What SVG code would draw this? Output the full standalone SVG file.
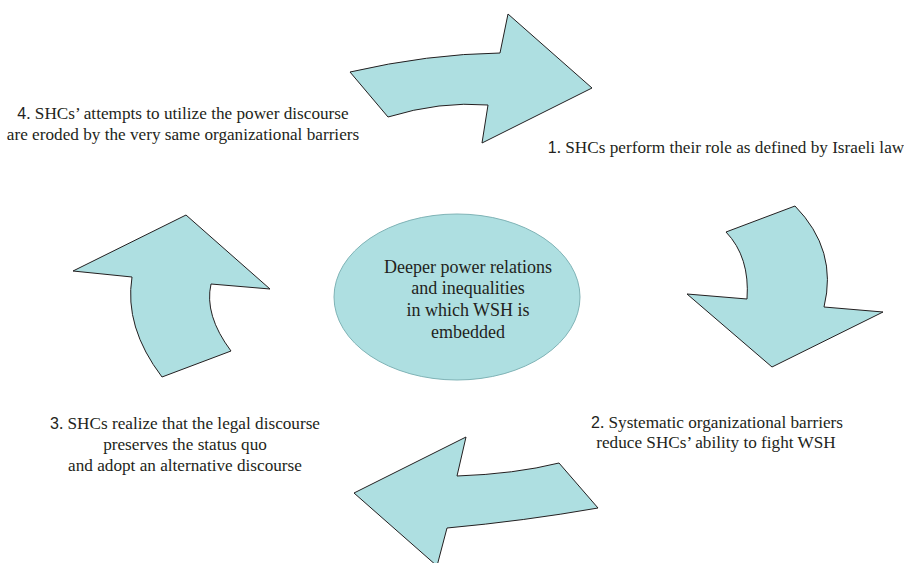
<svg xmlns="http://www.w3.org/2000/svg" width="904" height="563" viewBox="0 0 904 563">
<style>
.arrow{fill:#aedfe1;stroke:#231f20;stroke-width:1;stroke-linejoin:miter}
.t{font-family:"Liberation Serif","Times New Roman",serif;font-size:17.2px;fill:#231f20;text-anchor:middle}
.n{font-family:"Liberation Sans",Arial,sans-serif;font-size:16px}
.c{font-family:"Liberation Serif","Times New Roman",serif;font-size:18px;fill:#231f20;text-anchor:middle}
</style>
<rect width="904" height="563" fill="#ffffff"/>
<g id="connectors">
<path class="arrow" d="M350,72 Q428,54 500,53 L508,14 L592,88 L482,143 L488,105 Q440,101 388,117 Z"/>
<path class="arrow" d="M726,232 L795,206 Q838,250 824,307 L883,312 L772,367 L687,294 L747,299 Q750,257 726,232 Z"/>
<path class="arrow" d="M466,437 L457,476 Q515,474 559,463 L598,508 Q524,521 447,528 L437,566 L354,493 Z"/>
<path class="arrow" d="M186,215 L270,289 L211,284 Q204,315 231,351 L162,377 Q124,327 132,277 L73,271 Z"/>
</g>
<g id="center">
<ellipse cx="457" cy="297" rx="123" ry="83" fill="#aedfe1" stroke="#7fb3b6" stroke-width="1"/>
<text class="c" x="468" y="273">Deeper power relations</text>
<text class="c" x="468" y="294">and inequalities</text>
<text class="c" x="468" y="316">in which WSH is</text>
<text class="c" x="468" y="338">embedded</text>
</g>
<g id="label1">
<text class="t" x="726" y="153"><tspan class="n">1</tspan>. SHCs perform their role as defined by Israeli law</text>
</g>
<g id="label2">
<text class="t" x="717" y="428"><tspan class="n">2</tspan>. Systematic organizational barriers</text>
<text class="t" x="716" y="448">reduce SHCs’ ability to fight WSH</text>
</g>
<g id="label3">
<text class="t" x="185" y="429"><tspan class="n">3</tspan>. SHCs realize that the legal discourse</text>
<text class="t" x="185" y="450">preserves the status quo</text>
<text class="t" x="185" y="471">and adopt an alternative discourse</text>
</g>
<g id="label4">
<text class="t" x="183" y="119"><tspan class="n">4</tspan>. SHCs’ attempts to utilize the power discourse</text>
<text class="t" x="183" y="140">are eroded by the very same organizational barriers</text>
</g>
</svg>
